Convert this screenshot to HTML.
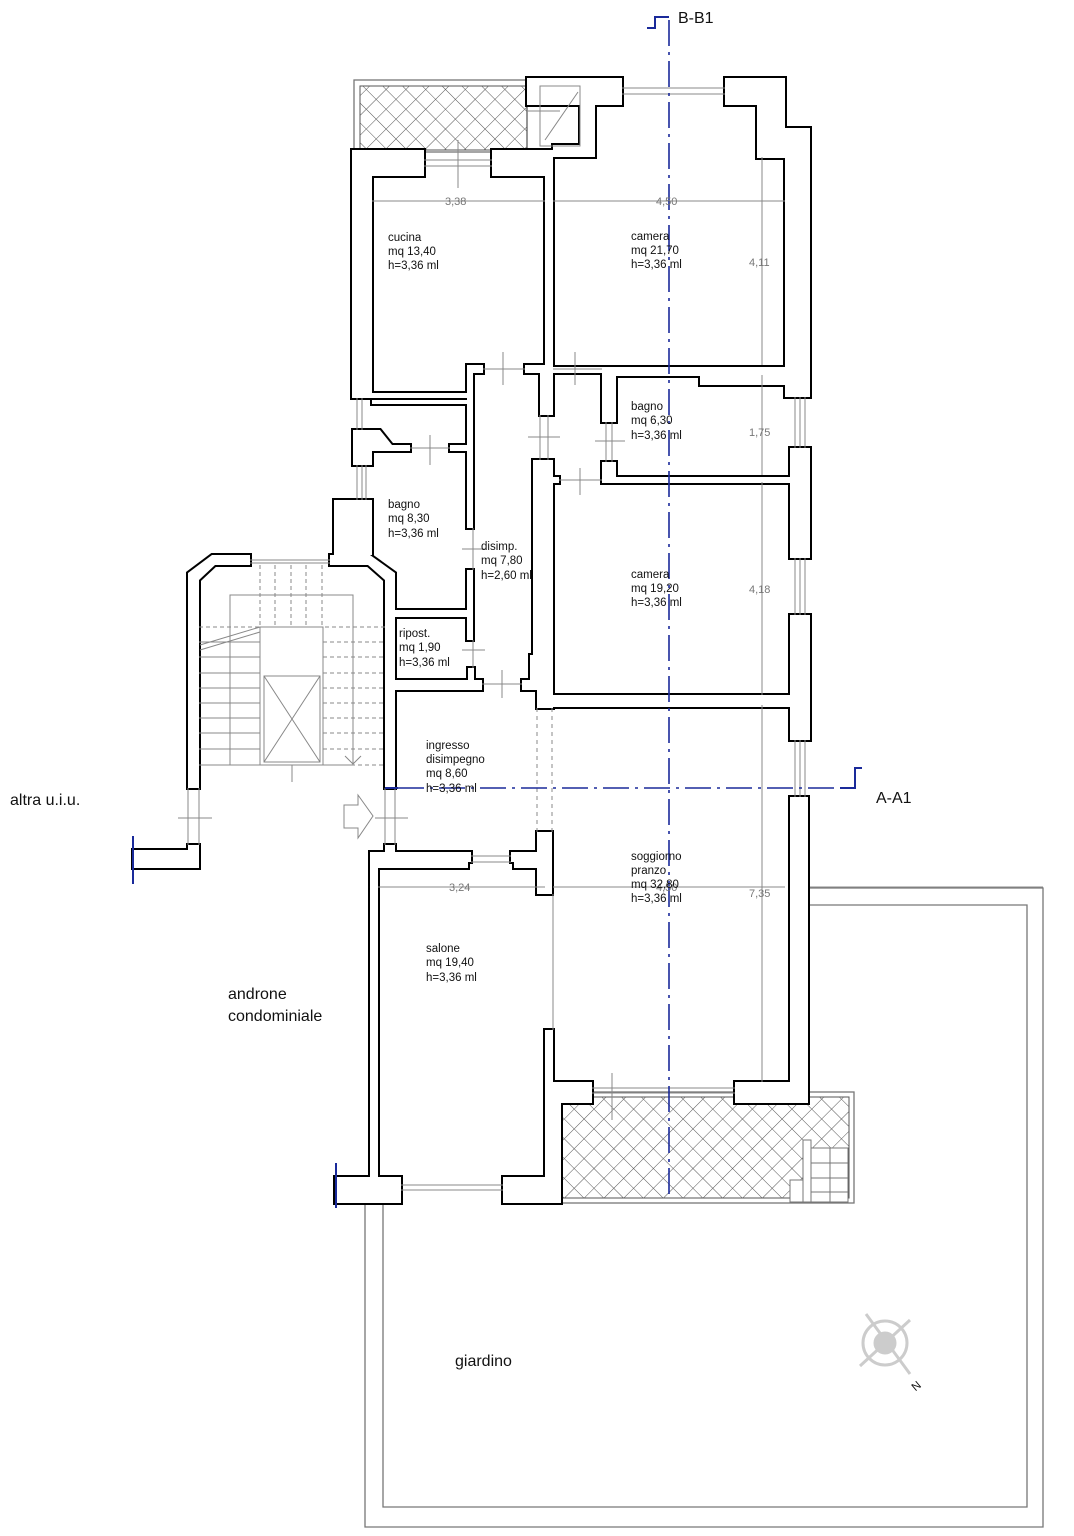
<!DOCTYPE html>
<html><head><meta charset="utf-8"><style>
html,body{margin:0;padding:0;background:#fff;}
svg{display:block;}
text{font-family:"Liberation Sans",sans-serif;}
.r{font-size:11.5px;fill:#111;}
.d{font-size:11px;fill:#777;}
.b{font-size:16px;fill:#111;}
</style></head><body>
<svg width="1074" height="1536" viewBox="0 0 1074 1536" xmlns="http://www.w3.org/2000/svg">
<defs>
<pattern id="h" width="14" height="14" patternUnits="userSpaceOnUse" patternTransform="rotate(45)">
<path d="M0 0H14M0 0V14" stroke="#555" stroke-width="1" fill="none"/>
</pattern>
<g id="w">
<rect x="352" y="150" width="72" height="26"/>
<rect x="492" y="150" width="53" height="26"/>
<rect x="352" y="150" width="20" height="248"/>
<rect x="545" y="150" width="8" height="218"/>
<rect x="527" y="78" width="95" height="27"/>
<rect x="580" y="78" width="15" height="79"/>
<rect x="553" y="145" width="42" height="12"/>
<rect x="725" y="78" width="60" height="27"/>
<rect x="757" y="78" width="28" height="80"/>
<rect x="785" y="128" width="25" height="269"/>
<rect x="352" y="380" width="20" height="18"/>
<rect x="352" y="393" width="118" height="5"/>
<rect x="372" y="400" width="96" height="4"/>
<polygon points="353,430 380,430 392,445 410,445 410,451 372,451 372,465 353,465"/>
<rect x="450" y="445" width="20" height="6"/>
<rect x="334" y="500" width="38" height="55"/>
<rect x="468" y="365" width="15" height="8"/>
<rect x="525" y="365" width="28" height="8"/>
<rect x="467" y="365" width="6" height="163"/>
<rect x="467" y="570" width="6" height="70"/>
<rect x="540" y="365" width="13" height="50"/>
<rect x="533" y="460" width="20" height="220"/>
<rect x="530" y="655" width="10" height="35"/>
<rect x="537" y="680" width="16" height="28"/>
<rect x="553" y="367" width="232" height="6"/>
<rect x="602" y="367" width="14" height="55"/>
<rect x="602" y="462" width="14" height="20"/>
<rect x="602" y="373" width="98" height="3"/>
<rect x="700" y="373" width="93" height="12"/>
<rect x="785" y="380" width="8" height="17"/>
<rect x="553" y="477" width="6" height="6"/>
<rect x="602" y="477" width="191" height="6"/>
<rect x="790" y="448" width="20" height="110"/>
<rect x="790" y="615" width="20" height="125"/>
<rect x="790" y="797" width="18" height="306"/>
<rect x="553" y="695" width="237" height="12"/>
<rect x="395" y="610" width="73" height="7"/>
<rect x="395" y="680" width="87" height="10"/>
<rect x="468" y="668" width="6" height="20"/>
<rect x="522" y="680" width="15" height="10"/>
<polygon points="188,788 188,573 212,555 250,555 250,565 215,565 199,580 199,788"/>
<polygon points="395,788 395,573 370,555 330,555 330,565 368,565 385,580 385,788"/>
<rect x="188" y="845" width="11" height="7"/>
<rect x="133" y="850" width="66" height="18"/>
<rect x="385" y="845" width="10" height="7"/>
<rect x="370" y="852" width="101" height="10"/>
<rect x="378" y="852" width="90" height="16"/>
<rect x="511" y="852" width="34" height="10"/>
<rect x="514" y="852" width="31" height="16"/>
<rect x="537" y="832" width="15" height="62"/>
<rect x="370" y="852" width="8" height="325"/>
<rect x="545" y="1030" width="8" height="60"/>
<rect x="545" y="1082" width="47" height="21"/>
<rect x="545" y="1082" width="16" height="121"/>
<rect x="735" y="1082" width="73" height="21"/>
<rect x="503" y="1177" width="58" height="26"/>
<rect x="335" y="1177" width="66" height="26"/>
</g>
</defs>

<path d="M808 888H1043V1527H365V1203" fill="none" stroke="#777" stroke-width="1.3"/>
<path d="M808 905H1027V1507H383V1203" fill="none" stroke="#777" stroke-width="1.3"/>
<rect x="354" y="80" width="173" height="72" fill="none" stroke="#777" stroke-width="1.3"/>
<rect x="360" y="86" width="167" height="64" fill="url(#h)" stroke="#555"/>
<rect x="556" y="1092" width="298" height="111" fill="none" stroke="#777" stroke-width="1.3"/>
<rect x="561" y="1097" width="288" height="101" fill="url(#h)" stroke="#555"/>
<g fill="#fff" stroke="#777" stroke-width="1">
<rect x="790" y="1180" width="23" height="22"/>
<rect x="803" y="1140" width="8" height="62"/>
<rect x="811" y="1148" width="37" height="54"/>
</g>
<g stroke="#777" stroke-width="1"><path d="M811 1163H848M811 1178H848M811 1192H848M830 1148V1202"/></g>

<use href="#w" fill="#000" stroke="#000" stroke-width="4"/>
<use href="#w" fill="#fff" stroke="none"/>

<g stroke="#888" stroke-width="1" fill="none">
<path d="M424 160H492M424 166H492M458 140V188"/>
<path d="M622 88H725M622 94H725"/>
<rect x="540" y="86" width="40" height="60"/>
<path d="M545 140L578 92M527 111H560"/>
<path d="M357 398V430M362 398V430M357 465V500M362 465V500M366 465V500"/>
<path d="M410 448H450M430 435V465"/>
<path d="M483 369H525M503 352V385M553 369H602M575 352V385"/>
<path d="M540 415V460M548 415V460M528 437H560M606 422V462M612 422V462M595 441H625"/>
<path d="M795 397V448M800 397V448M805 397V448"/>
<path d="M559 480H602M580 468V495"/>
<path d="M473 528V570M462 549H485"/>
<path d="M473 640V668M462 650H485"/>
<path d="M482 684H522M502 670V698"/>
<path d="M795 558V615M800 558V615M805 558V615M795 740V797M800 740V797M805 740V797"/>
<path d="M199 788V845M188 788V845M178 818H212M385 788V845M395 788V845M375 818H408"/>
<path d="M471 856H511M471 862H511"/>
<path d="M401 1185H503M401 1190H503"/>
<path d="M592 1088H735M592 1093H735M612 1073V1120"/>
<path d="M553 894V1030"/>
<path d="M537 708V832M552 708V832" stroke-dasharray="4,4"/>
<path d="M250 560H330M250 563H330"/>
<rect x="230" y="595" width="123" height="170"/>
<path d="M199 627H385" stroke-dasharray="4,3"/>
<path d="M260 565V627M275 565V627M291 565V627M306 565V627M322 565V627" stroke-dasharray="4,3"/>
<path d="M199 642H260M199 657H260M199 673H260M199 688H260M199 703H260M199 718H260M199 733H260M199 749H260"/>
<path d="M200 645L260 627M200 650L260 632"/>
<rect x="260" y="627" width="63" height="138"/>
<path d="M199 765H324"/>
<rect x="264" y="676" width="56" height="86"/>
<path d="M264 676L320 762M320 676L264 762M292 765V782"/>
<path d="M323 642H385M323 657H385M323 673H385M323 688H385M323 703H385M323 718H385M323 733H385M323 749H385M323 765H385" stroke-dasharray="4,3"/>
<path d="M353 627V763M345 756L353 764L361 756"/>
<path d="M344 805H358V795L373 816L358 838V828H344Z"/>
<path d="M372 201H545M553 201H785M762 157V365M762 375V475M762 482V695M762 705V1082M378 887H545M553 887H785M810 887H1043"/>
</g>
<g stroke="#1a2a9a" stroke-width="2" fill="none">
<path d="M133 836V884M336 1163V1208M385 788H398"/>
<path d="M647 28H655V17H669"/>
<path d="M840 788H855V768H862"/>
</g>
<g stroke="#1a2a9a" stroke-width="1.6" fill="none" stroke-dasharray="26,6,3,6">
<path d="M669 20V1200"/>
<path d="M398 788H855"/>
</g>
<g stroke="#ccc" fill="none" stroke-width="3">
<circle cx="885" cy="1343" r="22"/>
<path d="M866 1314L910 1374M860 1366L910 1320"/>
<circle cx="885" cy="1343" r="10" fill="#ccc"/>
</g>
<text x="912" y="1390" class="r" fill="#666" transform="rotate(-40 916 1386)">N</text>

<text class="b" x="678" y="23">B-B1</text>
<text class="b" x="876" y="803">A-A1</text>
<text class="b" x="10" y="805">altra u.i.u.</text>
<text class="b" x="228" y="999">androne</text>
<text class="b" x="228" y="1021">condominiale</text>
<text class="b" x="455" y="1366">giardino</text>

<text class="d" x="445" y="205">3,38</text>
<text class="d" x="656" y="205">4,50</text>
<text class="d" x="749" y="266">4,11</text>
<text class="d" x="749" y="436">1,75</text>
<text class="d" x="749" y="593">4,18</text>
<text class="d" x="749" y="897">7,35</text>
<text class="d" x="449" y="891">3,24</text>
<text class="d" x="656" y="891">4,50</text>

<g class="r">
<text x="388" y="241">cucina</text><text x="388" y="255">mq 13,40</text><text x="388" y="269">h=3,36 ml</text>
<text x="631" y="240">camera</text><text x="631" y="254">mq 21,70</text><text x="631" y="268">h=3,36 ml</text>
<text x="631" y="410">bagno</text><text x="631" y="424">mq 6,30</text><text x="631" y="439">h=3,36 ml</text>
<text x="388" y="508">bagno</text><text x="388" y="522">mq 8,30</text><text x="388" y="537">h=3,36 ml</text>
<text x="481" y="550">disimp.</text><text x="481" y="564">mq 7,80</text><text x="481" y="579">h=2,60 ml</text>
<text x="631" y="578">camera</text><text x="631" y="592">mq 19,20</text><text x="631" y="606">h=3,36 ml</text>
<text x="399" y="637">ripost.</text><text x="399" y="651">mq 1,90</text><text x="399" y="666">h=3,36 ml</text>
<text x="426" y="749">ingresso</text><text x="426" y="763">disimpegno</text><text x="426" y="777">mq 8,60</text><text x="426" y="792">h=3,36 ml</text>
<text x="631" y="860">soggiorno</text><text x="631" y="874">pranzo</text><text x="631" y="888">mq 32,80</text><text x="631" y="902">h=3,36 ml</text>
<text x="426" y="952">salone</text><text x="426" y="966">mq 19,40</text><text x="426" y="981">h=3,36 ml</text>
</g>
</svg>
</body></html>
